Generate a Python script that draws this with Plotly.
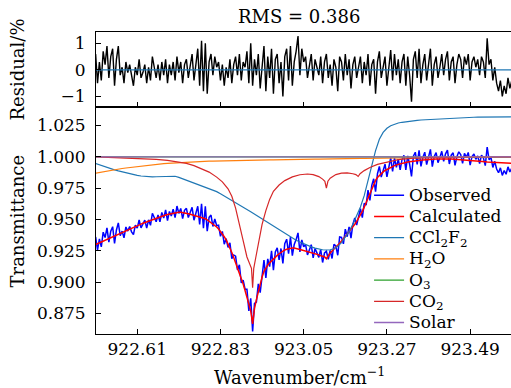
import plotly.graph_objects as go

# ---------------- data ----------------
# fine wavenumber grid (cm^-1), 0.005 spacing
wn = [round(922.500 + 0.005 * i, 3) for i in range(221)]

calculated = [
    0.9300, 0.9307, 0.9314, 0.9321, 0.9328, 0.9335, 0.9342, 0.9349, 0.9356, 0.9362,
    0.9369, 0.9376, 0.9383, 0.9390, 0.9397, 0.9403, 0.9410, 0.9417, 0.9424, 0.9431,
    0.9438, 0.9445, 0.9451, 0.9457, 0.9463, 0.9469, 0.9475, 0.9481, 0.9487, 0.9493,
    0.9499, 0.9505, 0.9511, 0.9516, 0.9521, 0.9526, 0.9531, 0.9536, 0.9540, 0.9544,
    0.9548, 0.9552, 0.9555, 0.9557, 0.9558, 0.9558, 0.9556, 0.9553, 0.9549, 0.9545,
    0.9541, 0.9537, 0.9534, 0.9530, 0.9525, 0.9520, 0.9515, 0.9510, 0.9505, 0.9496,
    0.9486, 0.9475, 0.9464, 0.9454, 0.9440, 0.9424, 0.9405, 0.9384, 0.9362, 0.9337,
    0.9307, 0.9274, 0.9236, 0.9196, 0.9156, 0.9116, 0.9078, 0.9033, 0.8985, 0.8933,
    0.8872, 0.8820, 0.8770, 0.8665, 0.8790, 0.8860, 0.8925, 0.8985, 0.9040, 0.9085,
    0.9112, 0.9135, 0.9153, 0.9170, 0.9185, 0.9200, 0.9213, 0.9226, 0.9238, 0.9248,
    0.9256, 0.9262, 0.9267, 0.9270, 0.9271, 0.9271, 0.9269, 0.9265, 0.9260, 0.9256,
    0.9252, 0.9249, 0.9246, 0.9242, 0.9238, 0.9233, 0.9228, 0.9223, 0.9217, 0.9210,
    0.9206, 0.9202, 0.9186, 0.9212, 0.9232, 0.9248, 0.9262, 0.9278, 0.9294, 0.9310,
    0.9327, 0.9345, 0.9363, 0.9382, 0.9401, 0.9420, 0.9440, 0.9462, 0.9485, 0.9510,
    0.9537, 0.9565, 0.9598, 0.9635, 0.9675, 0.9712, 0.9752, 0.9785, 0.9812, 0.9835,
    0.9853, 0.9868, 0.9880, 0.9891, 0.9900, 0.9908, 0.9916, 0.9923, 0.9930, 0.9936,
    0.9941, 0.9945, 0.9949, 0.9952, 0.9955, 0.9958, 0.9961, 0.9963, 0.9965, 0.9967,
    0.9969, 0.9971, 0.9973, 0.9975, 0.9977, 0.9978, 0.9979, 0.9980, 0.9981, 0.9982,
    0.9983, 0.9983, 0.9984, 0.9984, 0.9984, 0.9984, 0.9984, 0.9983, 0.9983, 0.9982,
    0.9982, 0.9981, 0.9980, 0.9979, 0.9978, 0.9977, 0.9976, 0.9975, 0.9974, 0.9973,
    0.9972, 0.9970, 0.9968, 0.9966, 0.9964, 0.9962, 0.9960, 0.9958, 0.9957, 0.9956,
    0.9955, 0.9954, 0.9953, 0.9953, 0.9952, 0.9952, 0.9951, 0.9951, 0.9950, 0.9950,
    0.9949,
]

# residual = (observed - calculated) in percent
residual = [
    0.6, -0.5, 0.3, -0.4, 0.7, 0.2, 0.9, -0.3, 0.5, 0.8, -0.6, 0.4, 0.9, -0.2, 0.1, -0.5, 0.3, -0.1, 0.2, -0.3,
    -0.6, 0.1, -0.2, 0.4, -0.3, -0.1, 0.2, -0.5, 0.1, -0.4, 0.5, 0.1, -0.3, 0.2, -0.4, 0.3, -0.2, 0.4, -0.5, 0.2,
    -0.2, 0.3, -0.4, 0.5, -0.1, 0.3, -0.5, 0.2, 0.4, -0.3, 0.1, 0.6, -0.4, 0.3, 0.8, -0.6, 1.1, -0.8, 1.0, -0.9,
    0.3, 0.6, -0.2, 0.5, 0.1, 0.3, -0.4, 0.2, -0.6, 0.1, -0.3, 0.4, -0.5, 0.2, 0.5, -0.2, 0.6, -0.4, 0.3, 0.1,
    0.7, -0.5, 1.0, -0.6, 0.4, -0.2, 0.6, -0.7, 0.3, 0.9, -0.8, 0.5, -0.3, 0.8, -0.9, 0.4, 0.6, -0.5, 0.3, -1.0,
    0.5, 0.8, -0.4, 0.9, -0.6, 0.3, 0.7, 1.28, -0.2, 0.8, 0.3, 0.5, -0.3, 0.2, 0.6, -0.4, 0.4, 0.1, -0.2, 0.5,
    -0.5, 0.3, 0.6, -0.3, 0.2, -0.6, 0.4, 0.1, -0.8, 0.5, 0.3, -0.4, 0.6, -0.2, 0.4, -0.7, 0.2, 0.5, -0.3, 0.1,
    0.5, -0.5, 0.3, -0.2, 0.6, -0.6, 0.2, 0.4, -0.9, 0.3, 0.7, -0.3, 0.1, 0.5, -0.6, 0.2, 0.75, -0.4, 0.6, -0.2,
    0.4, -0.5, 0.3, 0.6, -0.6, 0.5, -0.2, -1.2, 0.4, 0.7, -0.3, 0.8, -0.5, 0.2, 0.6, -0.4, 0.3, 0.8, -0.6, 0.2,
    0.5, -0.3, 0.1, 0.6, -0.2, 0.4, 0.7, -0.4, 0.3, 0.5, -0.5, 0.2, 0.6, 0.4, -0.3, 0.5, 0.2, 0.6, -0.4, 0.3,
    0.5, 0.1, 0.4, -0.2, 0.5, 0.3, -0.3, 1.19, 0.2, 0.4, -0.4, 0.1, -0.5, -0.8, -0.4, -1.0, -0.6, -0.9, -0.3, -0.7,
    -0.4,
]

observed = [c + r / 100.0 for c, r in zip(calculated, residual)]

# coarse grid (0.01 spacing) for smooth component spectra
wn_coarse = [round(922.50 + 0.01 * j, 2) for j in range(111)]

ccl2f2 = [
    0.9946, 0.9935, 0.9925, 0.9915, 0.9905, 0.9896, 0.9888, 0.9880, 0.9872, 0.9865,
    0.9858, 0.9852, 0.9847, 0.9843, 0.9841, 0.9840, 0.9841, 0.9843, 0.9845, 0.9847,
    0.9848, 0.9845, 0.9836, 0.9825, 0.9813, 0.9801, 0.9790, 0.9779, 0.9769, 0.9759,
    0.9750, 0.9737, 0.9722, 0.9705, 0.9688, 0.9670, 0.9652, 0.9634, 0.9616, 0.9598,
    0.9580, 0.9562, 0.9543, 0.9524, 0.9505, 0.9485, 0.9465, 0.9445, 0.9425, 0.9405,
    0.9385, 0.9366, 0.9349, 0.9334, 0.9320, 0.9306, 0.9293, 0.9281, 0.9271, 0.9263,
    0.9258, 0.9256, 0.9258, 0.9266, 0.9285, 0.9315, 0.9355, 0.9405, 0.9462, 0.9525,
    0.9600, 0.9690, 0.9800, 0.9930, 1.0050, 1.0140, 1.0195, 1.0228, 1.0248, 1.0261,
    1.0270, 1.0276, 1.0281, 1.0285, 1.0288, 1.0291, 1.0294, 1.0296, 1.0298, 1.0300,
    1.0302, 1.0304, 1.0305, 1.0307, 1.0308, 1.0310, 1.0311, 1.0313, 1.0314, 1.0315,
    1.0316, 1.0317, 1.0318, 1.0318, 1.0319, 1.0319, 1.0320, 1.0320, 1.0320, 1.0320,
    1.0320,
]

h2o = [
    0.9870, 0.9876, 0.9882, 0.9887, 0.9892, 0.9897, 0.9902, 0.9907, 0.9911, 0.9915,
    0.9919, 0.9923, 0.9927, 0.9930, 0.9934, 0.9937, 0.9940, 0.9943, 0.9946, 0.9948,
    0.9950, 0.9952, 0.9954, 0.9956, 0.9958, 0.9960, 0.9961, 0.9962, 0.9963, 0.9964,
    0.9965, 0.9966, 0.9967, 0.9968, 0.9969, 0.9970, 0.9971, 0.9971, 0.9972, 0.9972,
    0.9973, 0.9973, 0.9974, 0.9974, 0.9975, 0.9975, 0.9976, 0.9976, 0.9977, 0.9977,
    0.9978, 0.9978, 0.9979, 0.9979, 0.9980, 0.9980, 0.9981, 0.9981, 0.9982, 0.9982,
    0.9983, 0.9983, 0.9984, 0.9984, 0.9985, 0.9985, 0.9986, 0.9986, 0.9987, 0.9987,
    0.9988, 0.9988, 0.9989, 0.9989, 0.9990, 0.9990, 0.9990, 0.9991, 0.9991, 0.9991,
    0.9992, 0.9992, 0.9992, 0.9993, 0.9993, 0.9993, 0.9993, 0.9994, 0.9994, 0.9994,
    0.9994, 0.9994, 0.9995, 0.9995, 0.9995, 0.9995, 0.9995, 0.9995, 0.9996, 0.9996,
    0.9996, 0.9996, 0.9996, 0.9996, 0.9996, 0.9996, 0.9997, 0.9997, 0.9997, 0.9997,
    0.9997,
]

# CO2 sampled more densely around its line cores
co2_wn = [
    922.500, 922.550, 922.600, 922.630, 922.660, 922.690, 922.720, 922.740, 922.760, 922.780,
    922.800, 922.820, 922.835, 922.850, 922.860, 922.870, 922.880, 922.890, 922.900, 922.907,
    922.912, 922.915, 922.918, 922.923, 922.930, 922.940, 922.950, 922.960, 922.970, 922.985,
    923.000, 923.020, 923.040, 923.060, 923.075, 923.090, 923.100, 923.106, 923.110, 923.114,
    923.120, 923.135, 923.150, 923.165, 923.180, 923.188, 923.194, 923.199, 923.210, 923.225,
    923.245, 923.270, 923.300, 923.340, 923.400, 923.500, 923.600,
]
co2 = [
    1.0000, 0.9995, 0.9988, 0.9984, 0.9979, 0.9972, 0.9960, 0.9948, 0.9930, 0.9906,
    0.9878, 0.9838, 0.9800, 0.9745, 0.9685, 0.9590, 0.9470, 0.9330, 0.9200, 0.9140,
    0.9110, 0.8955, 0.9110, 0.9190, 0.9290, 0.9460, 0.9570, 0.9660, 0.9725, 0.9775,
    0.9810, 0.9840, 0.9857, 0.9863, 0.9858, 0.9842, 0.9822, 0.9805, 0.9750, 0.9805,
    0.9830, 0.9858, 0.9870, 0.9872, 0.9865, 0.9858, 0.9843, 0.9865, 0.9890, 0.9915,
    0.9940, 0.9960, 0.9978, 0.9990, 0.9996, 0.9999, 1.0000,
]

o3_wn = [922.50, 923.60]
o3 = [1.0000, 1.0000]
solar_wn = [922.50, 923.60]
solar = [1.0000, 1.0000]
zero_wn = [922.50, 923.60]
zero_line = [0.0, 0.0]

x_ticks = [922.61, 922.83, 923.05, 923.27, 923.49]
res_ticks = [-1, 0, 1]
trans_ticks = [0.875, 0.900, 0.925, 0.950, 0.975, 1.000, 1.025]

# ---------------- figure ----------------
FONT = "DejaVu Serif"


def lg(label):
    # legend label drawn a little larger than the legend's row pitch font
    return '<span style="font-size:17px">' + label + "</span>"


fig = go.Figure()

# residual panel
fig.add_trace(go.Scatter(x=wn, y=residual, mode="lines", line=dict(color="black", width=1.4),
                         showlegend=False, xaxis="x", yaxis="y"))
fig.add_trace(go.Scatter(x=zero_wn, y=zero_line, mode="lines", line=dict(color="#1f77b4", width=1.4),
                         showlegend=False, xaxis="x", yaxis="y"))

# transmittance panel
fig.add_trace(go.Scatter(x=wn, y=observed, mode="lines", name=lg("Observed"),
                         line=dict(color="#0000ff", width=1.5), xaxis="x2", yaxis="y2"))
fig.add_trace(go.Scatter(x=wn, y=calculated, mode="lines", name=lg("Calculated"),
                         line=dict(color="#ff0000", width=1.5), xaxis="x2", yaxis="y2"))
fig.add_trace(go.Scatter(x=wn_coarse, y=ccl2f2, mode="lines", name=lg("CCl<sub>2</sub>F<sub>2</sub>"),
                         line=dict(color="#1f77b4", width=1.2), xaxis="x2", yaxis="y2"))
fig.add_trace(go.Scatter(x=wn_coarse, y=h2o, mode="lines", name=lg("H<sub>2</sub>O"),
                         line=dict(color="#ff7f0e", width=1.2), xaxis="x2", yaxis="y2"))
fig.add_trace(go.Scatter(x=o3_wn, y=o3, mode="lines", name=lg("O<sub>3</sub>"),
                         line=dict(color="#2ca02c", width=1.2), xaxis="x2", yaxis="y2"))
fig.add_trace(go.Scatter(x=co2_wn, y=co2, mode="lines", name=lg("CO<sub>2</sub>"),
                         line=dict(color="#d62728", width=1.2), xaxis="x2", yaxis="y2"))
fig.add_trace(go.Scatter(x=solar_wn, y=solar, mode="lines", name=lg("Solar"),
                         line=dict(color="#9467bd", width=1.4), xaxis="x2", yaxis="y2"))

xr = [922.501, 923.598]
tickfont = dict(family=FONT, size=17, color="black")
common_x = dict(range=xr, tickvals=x_ticks, ticks="inside", ticklen=5, tickwidth=1, tickcolor="black",
                showline=True, linecolor="black", linewidth=1, mirror=True, showgrid=False,
                zeroline=False, tickfont=tickfont)
common_y = dict(ticks="inside", ticklen=5, tickwidth=1, tickcolor="black", showline=True,
                linecolor="black", linewidth=1, mirror=False, showgrid=False, zeroline=False,
                tickfont=tickfont, ticklabelstandoff=6)

top_frac = (334 - 107) / 302.0

fig.update_layout(
    width=511, height=388,
    margin=dict(l=96, r=0, t=32, b=54),
    paper_bgcolor="white", plot_bgcolor="white",
    font=dict(family=FONT, size=18, color="black"),
    xaxis=dict(common_x, anchor="y", showticklabels=False),
    yaxis=dict(common_y, domain=[top_frac, 1.0], range=[-1.40, 1.43], tickvals=res_ticks),
    xaxis2=dict(common_x, anchor="y2", tickformat=".2f"),
    yaxis2=dict(common_y, domain=[0.0, top_frac], range=[0.8585, 1.0398], tickvals=trans_ticks,
                tickformat=".3f"),
    legend=dict(x=0.658, y=0.511, xanchor="left", yanchor="top", bgcolor="rgba(0,0,0,0)",
                font=dict(family=FONT, size=14, color="black"), itemwidth=30),
    annotations=[
        dict(text="RMS = 0.386", xref="paper", yref="paper", x=0.49, y=1.0, yshift=16,
             xanchor="center", yanchor="middle", showarrow=False, font=dict(family=FONT, size=18)),
        dict(text="Residual/%", xref="paper", yref="paper", x=-0.188, y=(1 + top_frac) / 2,
             textangle=-90, xanchor="center", yanchor="middle", showarrow=False,
             font=dict(family=FONT, size=18)),
        dict(text="Transmittance", xref="paper", yref="paper", x=-0.188, y=top_frac / 2,
             textangle=-90, xanchor="center", yanchor="middle", showarrow=False,
             font=dict(family=FONT, size=18)),
        dict(text="Wavenumber/cm<sup>−1</sup>", xref="paper", yref="paper", x=0.49, y=-42 / 302.0,
             xanchor="center", yanchor="middle", showarrow=False, font=dict(family=FONT, size=18)),
    ],
)

fig.write_html(
    "out.html",
    config={"displayModeBar": False},
    post_script="document.body.style.margin='0';document.body.style.overflow='hidden';",
)
